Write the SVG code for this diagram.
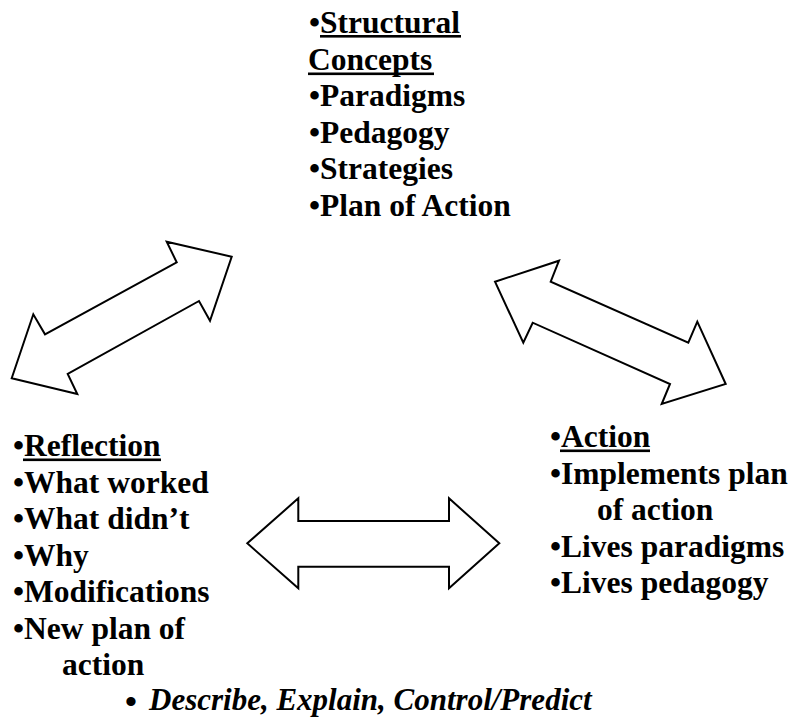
<svg xmlns="http://www.w3.org/2000/svg" width="794" height="724" viewBox="0 0 794 724">
<style>
.t{font-family:"Liberation Serif","Times New Roman",serif;font-weight:bold;font-size:31.5px;fill:#000}
.i{font-style:italic;font-size:31px}
.b{font-family:"Liberation Sans",Arial,sans-serif;font-weight:normal;font-size:34px}
.ar{fill:#fff;stroke:#000;stroke-width:2;stroke-linejoin:miter}
.u{fill:#000}
</style>
<rect width="794" height="724" fill="#fff"/>
<g id="connectors">
<polygon class="ar" points="11.7,378.3 33.3,314.3 45,334.3 176.7,262.3 166.7,241.7 231.7,256.7 210,320.7 199,301 67.7,374 77.3,394"/>
<polygon class="ar" points="495,281.7 559,260.7 550.7,281.7 688.3,342.7 697.3,321.7 725.7,384 661.7,404 670,384 532.7,322.7 523.3,342.7"/>
<polygon class="ar" points="247.3,543.3 298.3,498.3 298.3,521 449,521 449,498.3 499.3,543.3 449,588.3 449,566.7 298.3,566.7 298.3,588.3"/>
</g>
<g id="structural">
<text class="t" x="309" y="33">•Structural</text>
<rect class="u" x="320" y="35" width="141" height="2.6"/>
<text class="t" x="308" y="69.5">Concepts</text>
<rect class="u" x="308" y="72.5" width="126" height="2.6"/>
<text class="t" x="309" y="106">•Paradigms</text>
<text class="t" x="309" y="142.5">•Pedagogy</text>
<text class="t" x="309" y="179">•Strategies</text>
<text class="t" x="309" y="215.5">•Plan of Action</text>
</g>
<g id="reflection">
<text class="t" x="13" y="456">•Reflection</text>
<rect class="u" x="23" y="458.5" width="138" height="2.6"/>
<text class="t" x="13" y="492.5">•What worked</text>
<text class="t" x="13" y="529">•What didn’t</text>
<text class="t" x="13" y="565.5">•Why</text>
<text class="t" x="13" y="602">•Modifications</text>
<text class="t" x="13" y="638.5">•New plan of</text>
<text class="t" x="62" y="675">action</text>
</g>
<g id="action">
<text class="t" x="550" y="447">•Action</text>
<rect class="u" x="560" y="449.5" width="90" height="2.6"/>
<text class="t" x="550" y="483.5">•Implements plan</text>
<text class="t" x="597" y="520">of action</text>
<text class="t" x="550" y="556.5">•Lives paradigms</text>
<text class="t" x="550" y="593">•Lives pedagogy</text>
</g>
<g id="footer">
<text class="t b" x="125" y="713">•</text>
<text class="t i" x="149" y="710">Describe, Explain, Control/Predict</text>
</g>
</svg>
